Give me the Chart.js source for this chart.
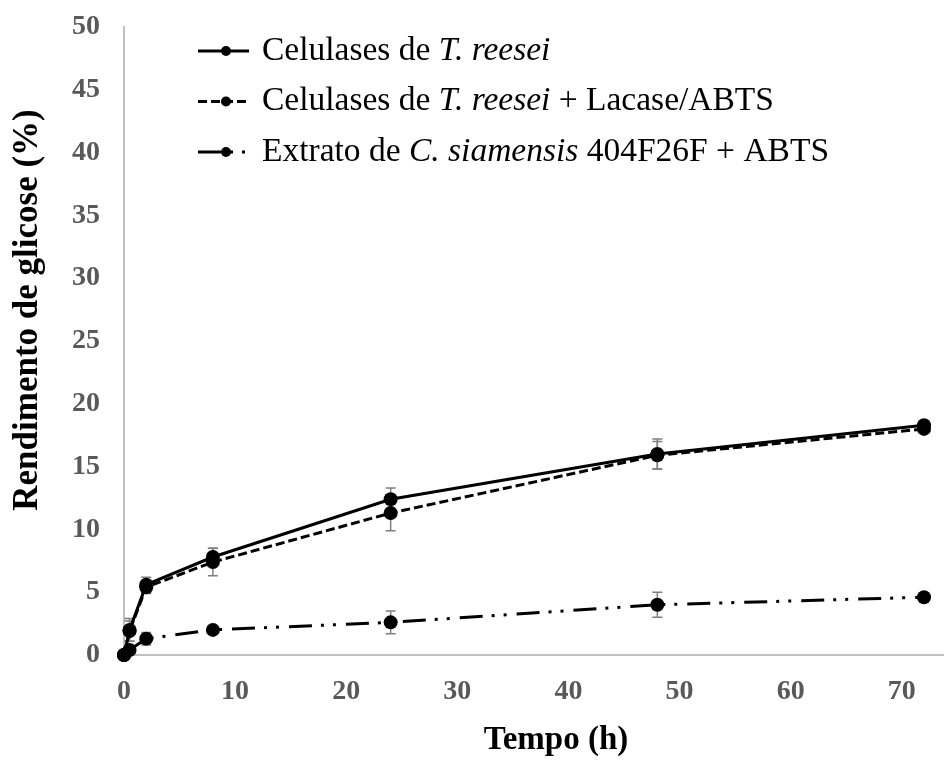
<!DOCTYPE html>
<html>
<head>
<meta charset="utf-8">
<script src="https://cdn.jsdelivr.net/npm/chart.js@4.4.0/dist/chart.umd.min.js"></script>
<style>
  html, body { margin: 0; padding: 0; background: #fff; overflow: hidden; }
  /* the original figure is cut at its right edge, so the plot runs a bit past the window */
  #wrap { width: 951px; height: 760px; }
</style>
</head>
<body>
<div id="wrap"><canvas id="chart"></canvas></div>
<script>
// sampling times (h)
const hours = [0, 0.5, 2, 8, 24, 48, 72];

// glucose yield (%) per series, with error (+/-)
const trBase = [0, 2.0, 5.6, 7.8, 12.4, 16.0, 18.3];
const trBaseErr = [0, 0.9, 0.6, 0.7, 0.9, 1.2, 0.2];
const trLacase = [0, 1.9, 5.4, 7.4, 11.3, 15.9, 18.0];
const trLacaseErr = [0, 0.8, 0.5, 1.1, 1.4, 1.1, 0.2];
const csExtract = [0, 0.4, 1.3, 2.0, 2.6, 4.0, 4.6];
const csExtractErr = [0, 0.2, 0.5, 0.2, 0.9, 1.0, 0.2];

// legend text pieces: [text, italic]
const legendParts = [
  [['Celulases de ', false], ['T. reesei', true]],
  [['Celulases de ', false], ['T. reesei', true], [' + Lacase/ABTS', false]],
  [['Extrato de ', false], ['C. siamensis', true], [' 404F26F + ABTS', false]]
];

const xTitle = 'Tempo (h)';
const yTitle = 'Rendimento de glicose (%)';

const serif = "'Liberation Serif', 'Times New Roman', serif";
const pts = arr => hours.map((h, i) => ({ x: h, y: arr[i] }));

const errorBars = {
  id: 'errorBars',
  beforeDatasetsDraw(chart) {
    const { ctx, scales: { x, y } } = chart;
    ctx.save();
    ctx.strokeStyle = '#7f7f7f';
    ctx.lineWidth = 1.5;
    chart.data.datasets.forEach(ds => {
      ds.data.forEach((p, j) => {
        const e = ds.errors[j];
        if (!e) return;
        const px = x.getPixelForValue(p.x);
        const top = y.getPixelForValue(p.y + e);
        const bot = y.getPixelForValue(p.y - e);
        ctx.beginPath();
        ctx.moveTo(px, top); ctx.lineTo(px, bot);
        ctx.moveTo(px - 5, top); ctx.lineTo(px + 5, top);
        ctx.moveTo(px - 5, bot); ctx.lineTo(px + 5, bot);
        ctx.stroke();
      });
    });
    ctx.restore();
  }
};

// legend with italic species names + axis titles (placed like the original)
const labels = {
  id: 'labels',
  afterDraw(chart) {
    const ctx = chart.ctx;
    ctx.save();
    chart.data.datasets.forEach((ds, i) => {
      const y = 51 + i * 50.5;
      ctx.strokeStyle = '#000';
      ctx.lineWidth = 3;
      ctx.setLineDash(ds.borderDash || []);
      ctx.beginPath();
      ctx.moveTo(198, y); ctx.lineTo(249, y);
      ctx.stroke();
      ctx.setLineDash([]);
      ctx.fillStyle = '#000';
      ctx.beginPath();
      ctx.arc(226, y, 5, 0, Math.PI * 2);
      ctx.fill();
      let x = 262;
      ctx.textBaseline = 'middle';
      ctx.textAlign = 'left';
      legendParts[i].forEach(([txt, it]) => {
        ctx.font = (it ? 'italic ' : '') + '33.5px ' + serif;
        ctx.fillText(txt, x, y);
        x += ctx.measureText(txt).width;
      });
    });

    ctx.fillStyle = '#000';
    ctx.textAlign = 'center';
    ctx.textBaseline = 'middle';
    ctx.font = 'bold 33px ' + serif;
    ctx.fillText(xTitle, 556, 740);

    ctx.translate(28, 310);
    ctx.rotate(-Math.PI / 2);
    ctx.font = 'bold 35px ' + serif;
    ctx.fillText(yTitle, 0, 0);
    ctx.restore();
  }
};

const lineStyle = {
  borderColor: '#000',
  backgroundColor: '#000',
  borderWidth: 3,
  pointRadius: 7,
  pointHoverRadius: 7,
  pointBackgroundColor: '#000',
  pointBorderWidth: 0,
  tension: 0,
  clip: false
};

new Chart(document.getElementById('chart'), {
  type: 'line',
  data: {
    datasets: [
      { ...lineStyle, label: 'Celulases de T. reesei', data: pts(trBase), errors: trBaseErr },
      { ...lineStyle, label: 'Celulases de T. reesei + Lacase/ABTS', data: pts(trLacase), errors: trLacaseErr, borderDash: [9, 4] },
      { ...lineStyle, label: 'Extrato de C. siamensis 404F26F + ABTS', data: pts(csExtract), errors: csExtractErr, borderDash: [23, 9, 3, 9, 3, 10] }
    ]
  },
  options: {
    responsive: true,
    maintainAspectRatio: false,
    animation: false,
    layout: { padding: { top: 27, right: 0, left: 0, bottom: 0 } },
    plugins: { legend: { display: false }, tooltip: { enabled: false } },
    scales: {
      x: {
        type: 'linear',
        min: 0,
        max: 73.8,
        grid: { display: false, drawTicks: false },
        border: { display: true, color: '#c0c0c0', width: 2 },
        ticks: {
          stepSize: 10,
          includeBounds: false,
          padding: 20,
          color: '#595959',
          font: { family: serif, size: 28, weight: 'bold' }
        },
        afterFit: s => {
          s.height = 105;
          s.paddingLeft = 0;
          s.paddingRight = 0;
        }
      },
      y: {
        min: 0,
        max: 50,
        grid: { display: false, drawTicks: false },
        border: { display: true, color: '#c0c0c0', width: 2 },
        ticks: {
          stepSize: 5,
          padding: 24,
          color: '#595959',
          font: { family: serif, size: 28, weight: 'bold' }
        },
        afterFit: s => {
          s.width = 124;
          s.paddingTop = 0;
          s.paddingBottom = 0;
        }
      }
    }
  },
  plugins: [errorBars, labels]
});
</script>
</body>
</html>
